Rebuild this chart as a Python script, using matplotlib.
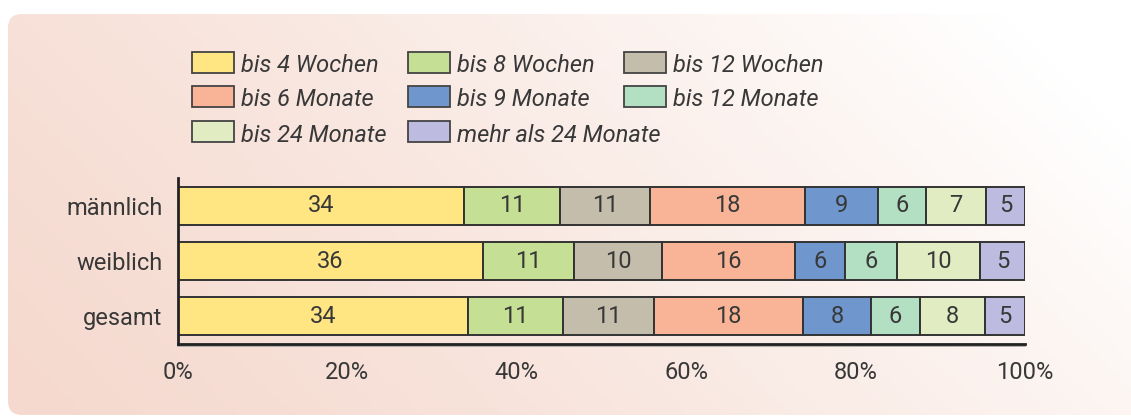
import numpy as np
import matplotlib
matplotlib.use("Agg")
from matplotlib import pyplot as plt
from matplotlib.patches import FancyBboxPatch, Rectangle

# Data
groups = ["gesamt", "weiblich", "männlich"]
categories = ["bis 4 Wochen", "bis 8 Wochen", "bis 12 Wochen", "bis 6 Monate",
              "bis 9 Monate", "bis 12 Monate", "bis 24 Monate", "mehr als 24 Monate"]
colors = ["#FFE682", "#C5DF95", "#C5BDAB", "#F9B497",
          "#7097CD", "#B3DFC2", "#E2ECC2", "#BDBCE0"]
# unrounded shares (bar widths), per group in the order of `groups`
gesamt = [34.2, 11.3, 10.7, 17.6, 8.0, 5.8, 7.7, 4.7]
weiblich = [36.0, 10.8, 10.3, 15.7, 6.0, 6.1, 9.8, 5.3]
maennlich = [33.8, 11.3, 10.6, 18.3, 8.6, 5.7, 7.1, 4.6]
# printed labels
gesamt_lbl = [34, 11, 11, 18, 8, 6, 8, 5]
weiblich_lbl = [36, 11, 10, 16, 6, 6, 10, 5]
maennlich_lbl = [34, 11, 11, 18, 9, 6, 7, 5]
xticks = [0, 20, 40, 60, 80, 100]

values = [gesamt, weiblich, maennlich]
labels = [gesamt_lbl, weiblich_lbl, maennlich_lbl]

W, H = 1131, 419
txt = "#383838"
font = "Roboto"
fw = "normal"
fs = 17

fig = plt.figure(figsize=(W / 100, H / 100), dpi=100)
fig.patch.set_facecolor("white")

# background panel with gradient
bg = fig.add_axes([0, 0, 1, 1])
bg.set_xlim(0, W)
bg.set_ylim(0, H)
bg.axis("off")
xx, yy = np.meshgrid(np.linspace(0, 1, 300), np.linspace(0, 1, 120))
t = np.clip(xx * 0.8 + yy * 0.3, 0, 1) ** 1.3
peach = np.array([245, 217, 206]) / 255
white = np.array([255, 255, 255]) / 255
img = peach[None, None, :] * (1 - t[..., None]) + white[None, None, :] * t[..., None]
im = bg.imshow(img, extent=[0, W, 0, H], origin="lower", aspect="auto", zorder=0)
panel = FancyBboxPatch((8, 4), W + 40, H - 14 - 4, boxstyle="round,pad=0,rounding_size=14",
                       transform=bg.transData, facecolor="none", edgecolor="none")
bg.add_patch(panel)
im.set_clip_path(panel)

# legend, placed by hand in a 3-column grid
col_x = [192, 408, 624]
row_y = [62.5, 97, 132]
for i, (cat, c) in enumerate(zip(categories, colors)):
    r, k = divmod(i, 3)
    x0, yc = col_x[k], H - row_y[r]
    bg.add_patch(Rectangle((x0, yc - 10.5), 42, 21, facecolor=c, edgecolor="#444444",
                           lw=1.3, zorder=2))
    bg.text(x0 + 49, yc - 3, cat, fontsize=fs, style="italic", color=txt,
            family=font, weight=fw, va="center", ha="left", zorder=3)

# main chart
ax = fig.add_axes([178 / W, 1 - 344 / H, 847 / W, 166 / H])
ax.set_facecolor("none")
y = np.arange(len(groups))
left = np.zeros(len(groups))
for j in range(len(categories)):
    w = np.array([v[j] for v in values])
    ax.barh(y, w, left=left, height=0.69, color=colors[j], edgecolor="#333333",
            linewidth=1.4, zorder=2)
    for i in range(len(groups)):
        ax.text(left[i] + w[i] / 2, y[i], str(labels[i][j]), ha="center", va="center",
                fontsize=fs, color=txt, family=font, weight=fw, zorder=3)
    left += w

ax.set_xlim(0, 100)
ax.set_ylim(-0.5, 2.5)
ax.set_yticks(y)
ax.set_yticklabels(groups, fontsize=fs, color=txt, family=font, weight=fw)
ax.set_xticks(xticks)
ax.set_xticklabels([f"{v}%" for v in xticks], fontsize=fs, color=txt,
                   family=font, weight=fw)
ax.tick_params(axis="both", length=0)
ax.tick_params(axis="x", pad=12)
ax.tick_params(axis="y", pad=11)
for s in ["top", "right"]:
    ax.spines[s].set_visible(False)
for s in ["left", "bottom"]:
    ax.spines[s].set_linewidth(2)
    ax.spines[s].set_color("#222222")
# faint shadow under the baseline
ax.plot([0, 100], [-0.535, -0.535], color="#a0a0a0", lw=1.2, zorder=1, clip_on=False)

fig.savefig("out.png", dpi=100)
